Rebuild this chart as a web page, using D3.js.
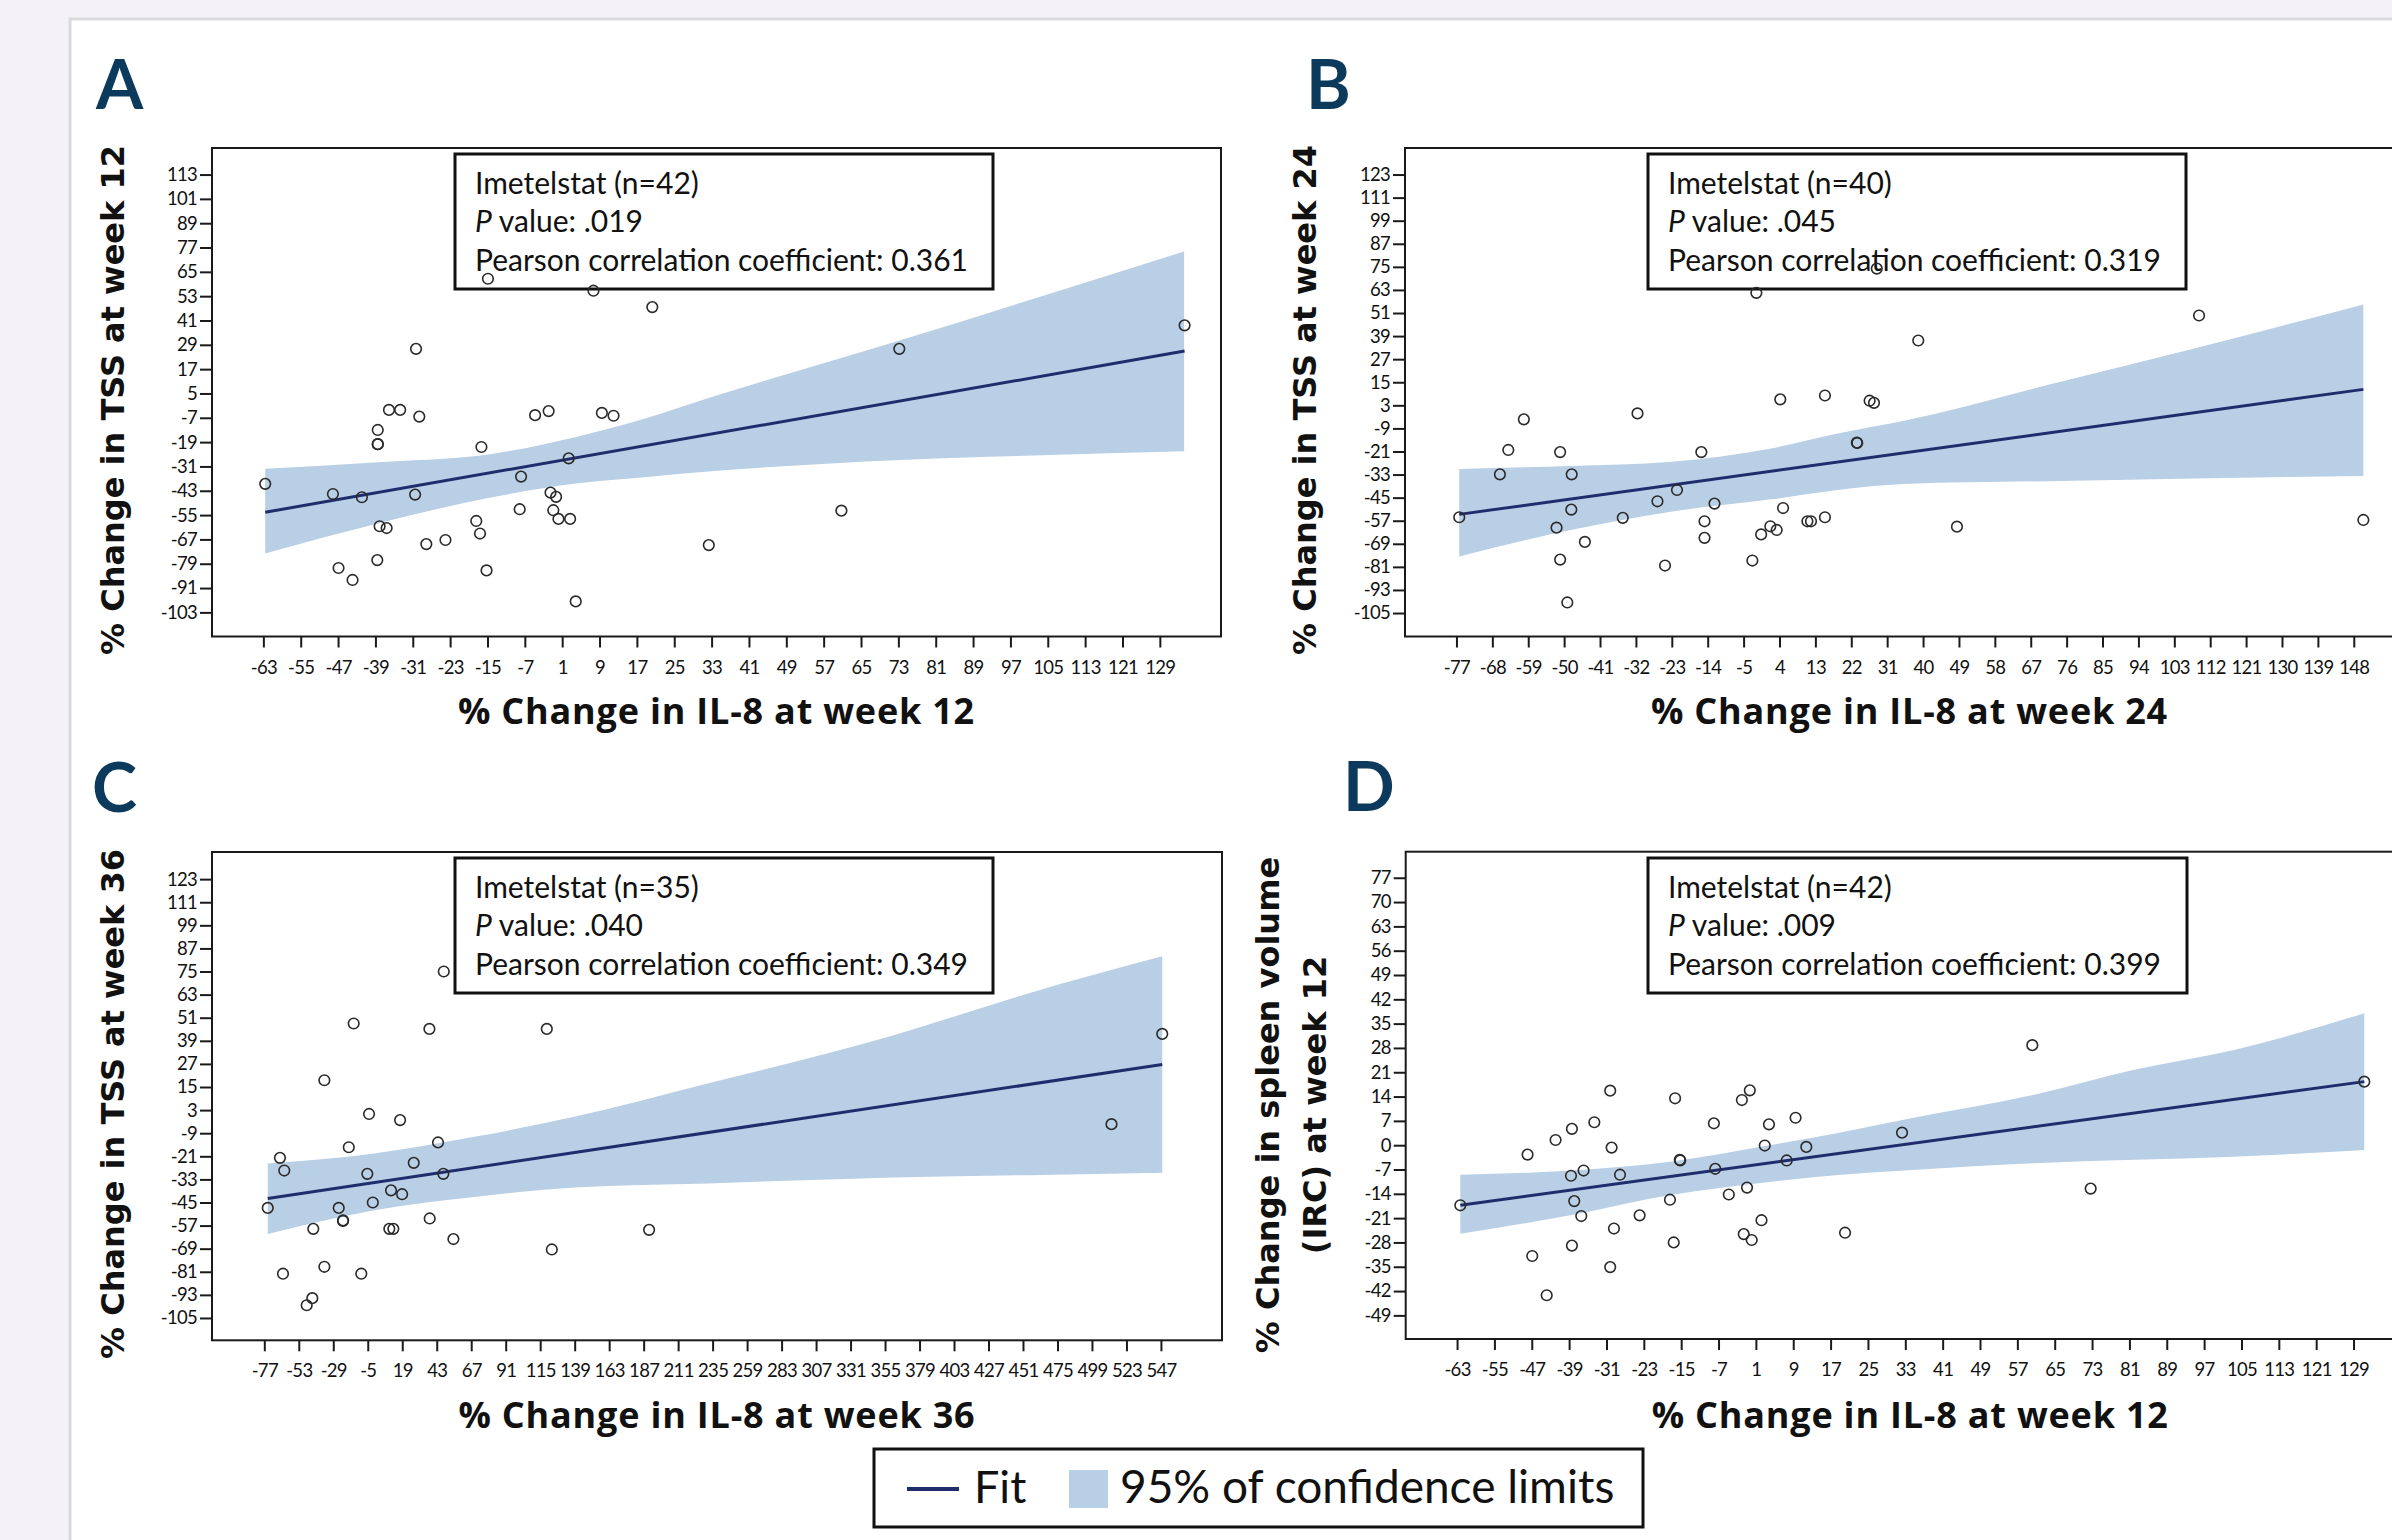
<!DOCTYPE html>
<html>
<head>
<meta charset="utf-8">
<title>IL-8 change vs TSS / spleen volume change</title>
<style>
  body { margin: 0; background: #f4f2f7; }
  svg text { font-family: Lato, "Noto Sans", sans-serif; }
  .tick line { stroke: #1a1a1a; stroke-width: 2; }
  .tick text { font-size: 18.5px; letter-spacing: -0.7px; fill: #111; }
</style>
</head>
<body>
<svg id="fig" width="2392" height="1540"></svg>
<script src="https://cdnjs.cloudflare.com/ajax/libs/d3/7.8.5/d3.min.js"></script>
<script>
// ---- data ----
// A: IL-8 wk12 vs TSS wk12
var ptsAx = [-62.6,-48.1,-41.9,-30.5,-30.3,-36.1,-33.7,-29.6,-38.5,-38.5,-38.1,-36.6,-38.6,-46.9,-43.9,-28.1,-24,-17.4,-16.6,-16.3,-15.2,-14.9,-7.8,-8.1,-4.8,-1.9,-1.5,-0.3,-0.9,0.2,2.7,2.4,3.9,7.7,9.5,12,20.3,32.4,60.8,73.2,134.3,-38.5];
var ptsAy = [-39.6,-44.6,-46.2,-44.9,27,-3.1,-3.1,-6.4,-13,-20,-60.5,-61.4,-77.2,-81.1,-87,-69.3,-67.3,-57.9,-64.1,-21.4,-82.3,61.6,-36,-52.1,-5.7,-3.7,-43.9,-46,-52.6,-56.9,-56.9,-27,-97.6,55.7,-4.6,-6,47.6,-69.8,-52.8,27,38.6,-20];
var fitAx = [-62.6, 134.3], fitAy = [-53.6, 25.9];
var bandAx  = [-62.6,-38.5,-14.9,4.4,18.6,33,73.4,102,134.2];
var bandAhi = [-32.2,-28.9,-25.1,-16.2,-7.5,3.2,31.2,51.7,75.1];
var bandAlo = [-73.9,-59.1,-46.6,-39.3,-36.3,-33.4,-27.8,-25.6,-23.5];
var xTicksA = [-63,-55,-47,-39,-31,-23,-15,-7,1,9,17,25,33,41,49,57,65,73,81,89,97,105,113,121,129];
var yTicksA = [113,101,89,77,65,53,41,29,17,5,-7,-19,-31,-43,-55,-67,-79,-91,-103];

// B: IL-8 wk24 vs TSS wk24
var ptsBx = [-76.3,-66.1,-64,-60.1,-51,-48.1,-48.2,-51.9,-44.8,-51,-49.2,-35.3,-31.6,-26.6,-21.7,-24.7,-15.6,-14.8,-14.8,-12.3,-1.8,-2.8,-0.6,1.7,3.3,4.2,4.9,11,11.9,15.4,15.4,23.4,23.5,26.6,27.7,28.4,38.8,48.5,109.2,150.4];
var ptsBy = [-55.2,-32.9,-20.2,-4.3,-21.3,-32.9,-51.2,-60.6,-68,-77.2,-99.5,-55.5,-1.2,-46.9,-41,-80.3,-21.3,-57.3,-65.9,-48.1,61.5,-77.7,-64.1,-59.9,-61.8,6.1,-50.4,-57.3,-57.3,-55.2,8.1,-16.4,-16.6,5.4,4.3,74.1,36.7,-60.1,49.7,-56.6];
var fitBx = [-76.3, 150.4], fitBy = [-53.7, 11.3];
var bandBx  = [-76.3,-48.3,-23.2,1.9,18.6,35.3,74.5,108,150.4];
var bandBhi = [-30.1,-28.5,-26.3,-19.4,-11.6,-5,15.3,32.6,55.4];
var bandBlo = [-75.6,-61.8,-52.3,-45.9,-41,-37.9,-36.3,-35,-33.7];
var xTicksB = [-77,-68,-59,-50,-41,-32,-23,-14,-5,4,13,22,31,40,49,58,67,76,85,94,103,112,121,130,139,148];
var yTicksB = [123,111,99,87,75,63,51,39,27,15,3,-9,-21,-33,-45,-57,-69,-81,-93,-105];

// C: IL-8 wk36 vs TSS wk36
var ptsCx = [-74.6,-66.1,-63.1,-64,-47.5,-43.6,-42.9,-35.2,-35.2,-25.2,-22.2,-22.2,-18.2,-14.8,-9.5,-4.1,-5.3,-1.5,11.2,18.9,10,12.8,17.5,27,37.9,38.1,43.9,47.6,47.9,54.6,119.6,123.1,190.8,512.6,547.9];
var ptsCy = [-47.8,-21.8,-28.4,-82,-98.4,-94.7,-58.7,18.5,-78.4,-47.8,-54.3,-54.6,-16.3,48,-82,1,-30.1,-45,-38.7,-40.7,-58.7,-58.7,-2.2,-24.4,45.2,-53.3,-13.8,-30.1,75,-64,45.2,-69.4,-59.2,-4.3,42.6];
var fitCx = [-74.6, 547.9], fitCy = [-42.9, 26.7];
var bandCx  = [-74.6,-0.5,69.1,138.7,231.5,361,454,547.9];
var bandChi = [-24.7,-19.5,-10.9,-0.5,16.8,41.9,63.5,82.9];
var bandClo = [-61.4,-49,-42.1,-37.2,-35.1,-32,-30.8,-29.6];
var xTicksC = [-77,-53,-29,-5,19,43,67,91,115,139,163,187,211,235,259,283,307,331,355,379,403,427,451,475,499,523,547];
var yTicksC = [123,111,99,87,75,63,51,39,27,15,3,-9,-21,-33,-45,-57,-69,-81,-93,-105];

// D: IL-8 wk12 vs spleen volume wk12
var ptsDx = [-62.3,-47.9,-46.9,-43.8,-41.9,-38.4,-38.6,-37.9,-36.4,-38.4,-35.9,-33.6,-30.2,-29.9,-28.1,-29.4,-30.2,-23.9,-17.4,-16.6,-16.3,-15.3,-15.2,-8,-7.7,-4.8,-2,-0.3,-0.9,-1.6,0.1,2.2,2.9,3.8,7.6,9.5,11.8,20.1,32.3,60.2,72.7,131.3];
var ptsDy = [-17.3,-2.7,-31.9,-43.2,1.5,4.7,-8.8,-16.1,-20.4,-28.9,-7.3,6.6,15.7,-0.7,-8.5,-24,-35.1,-20.2,-15.7,-28,13.5,-4.2,-4.4,6.3,-6.8,-14.2,13,15.8,-12.2,-25.6,-27.3,-21.6,-0.1,6,-4.4,7.9,-0.5,-25.2,3.6,28.8,-12.5,18.3];
var fitDx = [-62.3, 131.3], fitDy = [-17.3, 18.3];
var bandDx  = [-62.3,-38.4,-17,4.4,18.6,32.9,60.6,82,103.4,131.3];
var bandDhi = [-8.5,-7.3,-4.7,0.1,3.5,7.4,14.5,21.7,27.4,38];
var bandDlo = [-25.5,-20.1,-14.3,-10.5,-8.6,-7.3,-5.2,-4.2,-3.3,-1.4];
var xTicksD = [-63,-55,-47,-39,-31,-23,-15,-7,1,9,17,25,33,41,49,57,65,73,81,89,97,105,113,121,129];
var yTicksD = [77,70,63,56,49,42,35,28,21,14,7,0,-7,-14,-21,-28,-35,-42,-49];

var nLabels = ["Imetelstat (n=42)", "Imetelstat (n=40)", "Imetelstat (n=35)", "Imetelstat (n=42)"];
var pValues = [".019", ".045", ".040", ".009"];
var rValues = ["0.361", "0.319", "0.349", "0.399"];

// ---- layout ----
var BAND = "#b9cfe5", FIT = "#1f2d6d", NAVY = "#0c3a5c";
var svg = d3.select("#fig");

svg.append("rect").attr("x", 0).attr("y", 0).attr("width", 2392).attr("height", 1540).attr("fill", "#f4f2f7");
svg.append("rect").attr("x", 70).attr("y", 19).attr("width", 2400).attr("height", 1600)
   .attr("fill", "white").attr("stroke", "#d9d9db").attr("stroke-width", 3);

var panels = [
  { letter: "A", lx: 96, ly: 109, frame: [212, 148, 1221, 636.5], xd: [-74, 142.1], yd: [-114.9, 126.1],
    box: [455, 154, 993, 289], ytitle: ["% Change in TSS at week 12"], ytx: [124], yty: 400,
    xtitle: "% Change in IL-8 at week 12", xty: 724,
    px: ptsAx, py: ptsAy, fx: fitAx, fy: fitAy, bx: bandAx, bhi: bandAhi, blo: bandAlo, xt: xTicksA, yt: yTicksA },
  { letter: "B", lx: 1306, ly: 109, frame: [1405, 148, 2414, 636.5], xd: [-89.9, 163.1], yd: [-117.2, 136.8],
    box: [1648, 154, 2186, 289], ytitle: ["% Change in TSS at week 24"], ytx: [1316], yty: 400,
    xtitle: "% Change in IL-8 at week 24", xty: 724,
    px: ptsBx, py: ptsBy, fx: fitBx, fy: fitBy, bx: bandBx, bhi: bandBhi, blo: bandBlo, xt: xTicksB, yt: yTicksB },
  { letter: "C", lx: 92, ly: 812, frame: [212, 852, 1222, 1340.3], xd: [-113.4, 589.5], yd: [-116.6, 137.1],
    box: [455, 858, 993, 993], ytitle: ["% Change in TSS at week 36"], ytx: [124], yty: 1104,
    xtitle: "% Change in IL-8 at week 36", xty: 1428,
    px: ptsCx, py: ptsCy, fx: fitCx, fy: fitCy, bx: bandCx, bhi: bandChi, blo: bandClo, xt: xTicksC, yt: yTicksC },
  { letter: "D", lx: 1343, ly: 811, frame: [1405.7, 851.7, 2414.7, 1339], xd: [-74, 142.1], yd: [-55.8, 84.5],
    box: [1648, 858, 2187, 993], ytitle: ["% Change in spleen volume", "(IRC) at week 12"], ytx: [1279, 1326], yty: 1105,
    xtitle: "% Change in IL-8 at week 12", xty: 1428,
    px: ptsDx, py: ptsDy, fx: fitDx, fy: fitDy, bx: bandDx, bhi: bandDhi, blo: bandDlo, xt: xTicksD, yt: yTicksD }
];

var plain = function(d) { return String(d); };

panels.forEach(function(p, k) {
  var f = p.frame;
  var g = svg.append("g");
  var x = d3.scaleLinear().domain(p.xd).range([f[0], f[2]]);
  var y = d3.scaleLinear().domain(p.yd).range([f[3], f[1]]);

  g.append("rect").attr("x", f[0]).attr("y", f[1]).attr("width", f[2] - f[0]).attr("height", f[3] - f[1])
    .attr("fill", "white").attr("stroke", "#1a1a1a").attr("stroke-width", 2);

  // confidence band + fit line
  var idx = d3.range(p.bx.length);
  g.append("path").datum(idx)
    .attr("d", d3.area().curve(d3.curveMonotoneX)
      .x(function(i) { return x(p.bx[i]); })
      .y0(function(i) { return y(p.blo[i]); })
      .y1(function(i) { return y(p.bhi[i]); }))
    .attr("fill", BAND);
  g.append("path").datum([0, 1])
    .attr("d", d3.line().x(function(i) { return x(p.fx[i]); }).y(function(i) { return y(p.fy[i]); }))
    .attr("fill", "none").attr("stroke", FIT).attr("stroke-width", 3);

  // axes
  var xa = g.append("g").attr("transform", "translate(0," + f[3] + ")")
    .call(d3.axisBottom(x).tickValues(p.xt).tickFormat(plain).tickSize(11).tickPadding(13).tickSizeOuter(0));
  xa.select(".domain").remove();
  var ya = g.append("g").attr("transform", "translate(" + f[0] + ",0)")
    .call(d3.axisLeft(y).tickValues(p.yt).tickFormat(plain).tickSize(12).tickPadding(3).tickSizeOuter(0));
  ya.select(".domain").remove();

  // stats box
  var b = p.box;
  g.append("rect").attr("x", b[0]).attr("y", b[1]).attr("width", b[2] - b[0]).attr("height", b[3] - b[1])
    .attr("fill", "white").attr("stroke", "#111").attr("stroke-width", 3);
  var t = g.append("g").attr("font-size", 30).attr("fill", "#111");
  t.append("text").attr("x", b[0] + 20).attr("y", b[1] + 39.5).text(nLabels[k]);
  var pv = t.append("text").attr("x", b[0] + 20).attr("y", b[1] + 78);
  pv.append("tspan").attr("font-style", "italic").text("P");
  pv.append("tspan").text(" value: " + pValues[k]);
  t.append("text").attr("x", b[0] + 20).attr("y", b[1] + 116.5).text("Pearson correlation coefficient: " + rValues[k]);

  // points
  g.selectAll("circle.pt").data(d3.range(p.px.length)).enter().append("circle")
    .attr("cx", function(i) { return x(p.px[i]); })
    .attr("cy", function(i) { return y(p.py[i]); })
    .attr("r", 5.3).attr("fill", "none").attr("stroke", "#2a2a2a").attr("stroke-width", 1.6);

  // titles
  svg.append("text").attr("x", p.lx).attr("y", p.ly).attr("font-size", 68).attr("font-weight", 700)
    .attr("fill", NAVY).text(p.letter);
  svg.append("text").attr("x", (f[0] + f[2]) / 2).attr("y", p.xty).attr("text-anchor", "middle")
    .style("font-family", "'Open Sans', 'Noto Sans', sans-serif").style("letter-spacing", "0.8px")
    .attr("font-size", 36).attr("font-weight", 700).attr("fill", "#111").text(p.xtitle);
  p.ytitle.forEach(function(s, j) {
    svg.append("text").attr("transform", "translate(" + p.ytx[j] + "," + p.yty + ") rotate(-90)")
      .attr("text-anchor", "middle").style("font-family", "'DejaVu Sans', sans-serif").attr("font-weight", 700)
      .attr("font-size", 32).attr("fill", "#111").text(s);
  });
});

// legend
var lg = svg.append("g");
lg.append("rect").attr("x", 874).attr("y", 1449).attr("width", 769).attr("height", 78)
  .attr("fill", "white").attr("stroke", "#111").attr("stroke-width", 3);
lg.append("line").attr("x1", 907).attr("x2", 959).attr("y1", 1489).attr("y2", 1489)
  .attr("stroke", FIT).attr("stroke-width", 4);
lg.append("text").attr("x", 974).attr("y", 1503).attr("font-size", 45).attr("fill", "#111").text("Fit");
lg.append("rect").attr("x", 1069).attr("y", 1470).attr("width", 39).attr("height", 38).attr("fill", BAND);
lg.append("text").attr("x", 1120).attr("y", 1503).attr("font-size", 46).attr("fill", "#111").text("95% of confidence limits");
</script>
</body>
</html>
